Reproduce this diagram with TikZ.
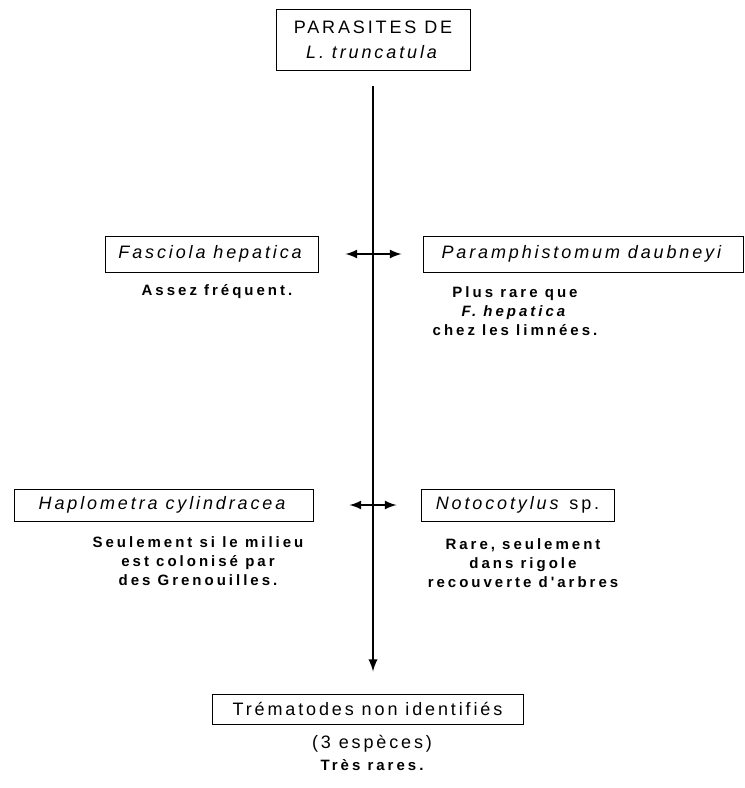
\documentclass[tikz,border=0pt]{standalone}
\usepackage{fontspec}
\setmainfont{Liberation Sans}[LetterSpace=16]
\newfontfamily\descfont{Liberation Sans}[LetterSpace=20]
\usepackage{tikz}
\usetikzlibrary{arrows, positioning}

\tikzset{
  box/.style={draw, line width=0.5pt, inner sep=0pt, align=center, font=\fontsize{9}{12.5}\selectfont},
  desc/.style={align=center, inner sep=0pt, font=\descfont\bfseries\fontsize{7.5}{9.5}\selectfont},
  link/.style={latex-latex, line width=1pt}
}

\begin{document}
\begin{tikzpicture}[x=0.5pt, y=-0.5pt]
\useasboundingbox (0,0) rectangle (745,788);
\node [box, minimum width=97pt, minimum height=30.5pt] (title) at (373,40) {PARASITES DE\\\textit{L. truncatula}};
\node [box, minimum width=106.5pt, minimum height=18pt] (fasciola) at (211.5,254) {\textit{Fasciola hepatica}};
\node [box, minimum width=160pt, minimum height=18pt] (paramph) at (583,254) {\textit{Paramphistomum daubneyi}};
\node [box, minimum width=149.5pt, minimum height=16pt] (haplo) at (163.5,505) {\textit{Haplometra cylindracea}};
\node [box, minimum width=96.5pt, minimum height=16pt] (noto) at (517.5,505) {\textit{Notocotylus} sp.};
\node [box, minimum width=155.5pt, minimum height=15pt] (tremat) at (367.5,709) {Trématodes non identifiés};

\node [desc] (fasdesc) at (217,292) {Assez fréquent.};
\node [desc] (pardesc) at (515,311) {Plus rare que\\\textit{F. hepatica}\\chez les limnées.};
\node [desc] (hapdesc) at (198,561) {Seulement si le milieu\\est colonisé par\\des Grenouilles.};
\node [desc] (notdesc) at (523,563) {Rare, seulement\\dans rigole\\recouverte d'arbres};
\node [font=\fontsize{9}{11}\selectfont, inner sep=0pt] (especes) at (372,744) {(3 espèces)};
\node [desc] (rares) at (372,765) {Très rares.};

\draw [-latex, line width=1.1pt, shorten <=7.5pt, shorten >=11pt] (title.south) -- (title.south |- tremat.north);
\draw [link, shorten <=13.5pt, shorten >=10.5pt] (fasciola) -- (paramph);
\draw [link, shorten <=18pt, shorten >=12pt] (haplo) -- (noto);
\end{tikzpicture}
\end{document}
